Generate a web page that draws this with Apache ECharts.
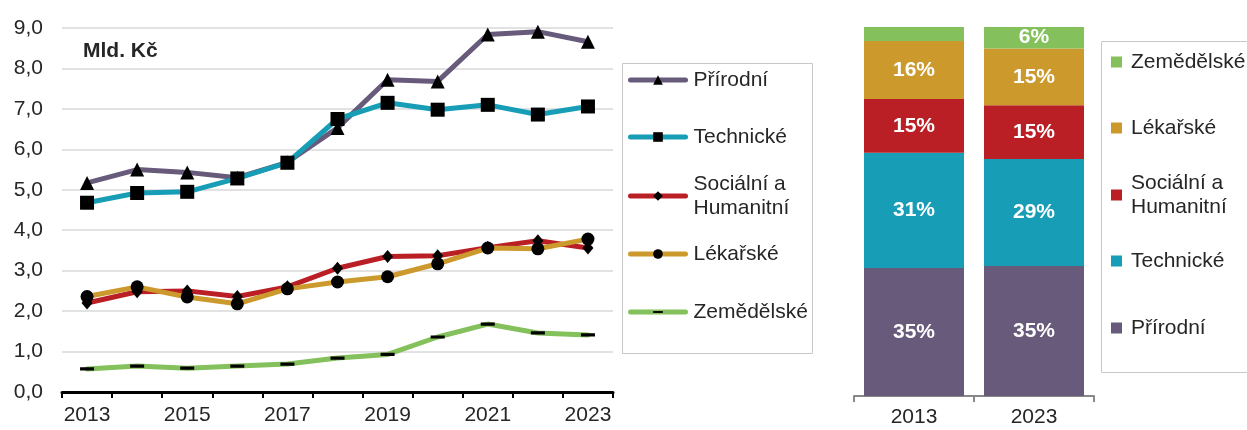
<!DOCTYPE html>
<html>
<head>
<meta charset="utf-8">
<script src="https://cdn.jsdelivr.net/npm/echarts@6/dist/echarts.min.js"></script>
<style>
  html, body { margin: 0; padding: 0; background: #fff; }
  #main { width: 1247px; height: 430px; }
</style>
</head>
<body>
<div id="main"></div>
<script>
// roky a hodnoty (mld. Kč)
const years = ["2013", "2014", "2015", "2016", "2017", "2018", "2019", "2020", "2021", "2022", "2023"];
const prirodni = [5.17, 5.5, 5.43, 5.3, 5.68, 6.53, 7.72, 7.68, 8.84, 8.91, 8.66];
const technicke = [4.68, 4.92, 4.95, 5.28, 5.67, 6.75, 7.15, 6.98, 7.1, 6.86, 7.06];
const socialni = [2.2, 2.48, 2.5, 2.36, 2.6, 3.06, 3.35, 3.37, 3.57, 3.74, 3.56];
const lekarske = [2.36, 2.6, 2.35, 2.18, 2.55, 2.72, 2.85, 3.17, 3.56, 3.54, 3.78];
const zemedelske = [0.57, 0.64, 0.59, 0.64, 0.69, 0.84, 0.93, 1.36, 1.68, 1.46, 1.41];

// podíly (%) – pořadí: Přírodní, Technické, Sociální, Lékařské, Zemědělské
const shareYears = ["2013", "2023"];
const share2013 = [34.7, 31.2, 14.6, 15.7, 3.8];
const share2023 = [35.2, 29.0, 14.6, 15.4, 5.8];

const yTicks = { min: 0, max: 9, interval: 1 };

const FONT = "Liberation Sans, Arial, sans-serif";
const TXT = "#262626";
const FS = 21;

const groups = [
  { name: "Přírodní", color: "#675a7b", symbol: "triangle", size: 14, data: prirodni },
  { name: "Technické", color: "#179db5", symbol: "rect", size: 14, data: technicke },
  { name: "Sociální a Humanitní", color: "#b91f25", symbol: "diamond", size: [11, 13], data: socialni },
  { name: "Lékařské", color: "#cc992c", symbol: "circle", size: 13, data: lekarske },
  { name: "Zemědělské", color: "#84c15c", symbol: "path://M0 0L0.01 0M0 5H13V8H0ZM13 13L12.99 13", size: 14, data: zemedelske },
];

const lineSeries = groups.map(g => ({
  name: g.name,
  type: "line",
  xAxisIndex: 0,
  yAxisIndex: 0,
  data: g.data,
  symbol: g.symbol,
  symbolSize: g.size,
  lineStyle: { color: g.color, width: 5, cap: "round", join: "round" },
  itemStyle: { color: "#000", borderWidth: 0 },
}));

const barSeries = groups.map((g, i) => ({
  name: g.name,
  type: "bar",
  xAxisIndex: 1,
  yAxisIndex: 1,
  stack: "podil",
  barWidth: 100,
  data: [share2013[i], share2023[i]],
  itemStyle: { color: g.color },
  label: {
    show: true,
    position: "inside",
    color: "#fff",
    fontWeight: "bold",
    fontSize: FS,
    fontFamily: FONT,
    formatter: p => (p.value >= 5 ? Math.round(p.value) + "%" : ""),
  },
}));

// legenda vlevo – středy ikon
const leftLegendY = [80, 137, 196, 254, 312];
// legenda vpravo (obrácené pořadí)
const rightOrder = [4, 3, 2, 1, 0];
const rightLegendY = [62, 128, 195, 261, 328];

function legendText(twoLine, padLeft) {
  return {
    fontSize: FS,
    lineHeight: 24,
    color: TXT,
    fontFamily: FONT,
    padding: twoLine ? [24, 0, 0, padLeft] : [0, 0, 0, padLeft],
  };
}

const legends = [];
groups.forEach((g, i) => {
  const two = g.name.indexOf(" a ") > 0;
  legends.push({
    orient: "vertical",
    left: 628,
    top: leftLegendY[i] - (two ? 36 : 12),
    padding: 0,
    itemWidth: 55,
    itemHeight: 12,
    selectedMode: false,
    data: [g.name],
    lineStyle: { width: 5 },
    itemStyle: { borderWidth: 0 },
    formatter: n => n.replace(" a ", " a\n"),
    textStyle: legendText(two, 3),
  });
});
rightOrder.forEach((gi, k) => {
  const g = groups[gi];
  const two = g.name.indexOf(" a ") > 0;
  legends.push({
    orient: "vertical",
    left: 1111,
    top: rightLegendY[k] - (two ? 36 : 12),
    padding: 0,
    itemWidth: 11,
    itemHeight: 11,
    selectedMode: false,
    data: [{ name: g.name, icon: "rect", itemStyle: { color: g.color, borderWidth: 0 } }],
    formatter: n => n.replace(" a ", " a\n"),
    textStyle: legendText(two, 4),
  });
});

const chart = echarts.init(document.getElementById("main"));
chart.setOption({
  animation: false,
  textStyle: { fontFamily: FONT },
  title: {
    text: "Mld. Kč",
    left: 83,
    top: 41,
    padding: 0,
    textStyle: { fontSize: FS, fontWeight: "bold", color: TXT, fontFamily: FONT },
  },
  grid: [
    { left: 62, top: 28, width: 551, height: 364 },
    { left: 854, top: 27, width: 240, height: 369 },
  ],
  xAxis: [
    {
      type: "category",
      gridIndex: 0,
      data: years,
      boundaryGap: true,
      axisLine: { lineStyle: { color: "#000", width: 3 } },
      axisTick: { show: true, interval: 0, length: 6, lineStyle: { color: "#000", width: 2 } },
      axisLabel: { interval: 1, fontSize: FS, color: TXT, margin: 13, fontFamily: FONT },
      splitLine: { show: false },
    },
    {
      type: "category",
      gridIndex: 1,
      data: shareYears,
      boundaryGap: true,
      axisLine: { lineStyle: { color: "#888", width: 2 } },
      axisTick: { show: true, interval: 0, length: 6, lineStyle: { color: "#888", width: 2 } },
      axisLabel: { fontSize: FS, color: TXT, margin: 11, fontFamily: FONT },
      splitLine: { show: false },
    },
  ],
  yAxis: [
    {
      type: "value",
      gridIndex: 0,
      min: yTicks.min,
      max: yTicks.max,
      interval: yTicks.interval,
      axisLine: { show: false },
      axisTick: { show: false },
      axisLabel: {
        fontSize: FS,
        color: TXT,
        margin: 19,
        fontFamily: FONT,
        formatter: v => v.toFixed(1).replace(".", ","),
      },
      splitLine: { lineStyle: { color: "#d9d9d9", width: 1.5 } },
    },
    {
      type: "value",
      gridIndex: 1,
      min: 0,
      max: 100,
      show: false,
      splitLine: { show: false },
    },
  ],
  legend: legends,
  graphic: [
    {
      type: "rect",
      shape: { x: 622.5, y: 63.5, width: 190, height: 290 },
      style: { fill: "none", stroke: "#c8c8c8", lineWidth: 1 },
      silent: true,
    },
    {
      type: "rect",
      shape: { x: 1101.5, y: 41.5, width: 200, height: 331 },
      style: { fill: "none", stroke: "#c8c8c8", lineWidth: 1 },
      silent: true,
    },
  ],
  series: lineSeries.concat(barSeries),
});
</script>
</body>
</html>
